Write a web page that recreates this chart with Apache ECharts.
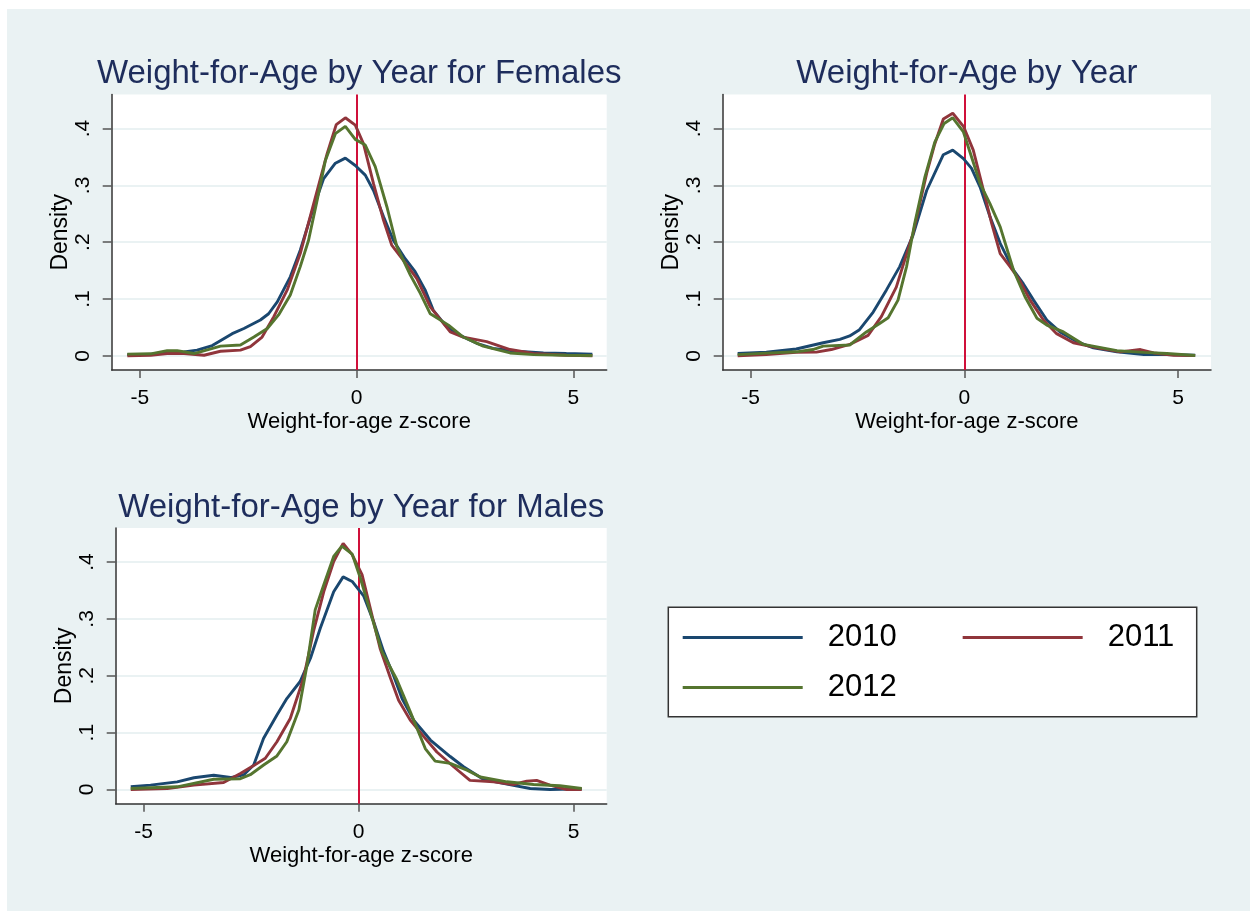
<!DOCTYPE html>
<html>
<head>
<meta charset="utf-8">
<script src="https://cdn.jsdelivr.net/npm/echarts@6/dist/echarts.min.js"></script>
<style>
html,body{margin:0;padding:0;background:#ffffff;}
#bg{position:absolute;left:7px;top:9px;width:1243px;height:902px;background:#EAF2F3;}
#chart{position:absolute;left:0;top:0;width:1250px;height:911px;}
</style>
</head>
<body>
<div id="bg"></div>
<div id="chart"></div>
<script>
// ---------------- DATA ----------------
const years = ['2010', '2011', '2012'];
const panelTitles = ['Weight-for-Age by Year for Females', 'Weight-for-Age by Year', 'Weight-for-Age by Year for Males'];
const xTickValues = [-5, 0, 5];
const yTickValues = [0, 0.1, 0.2, 0.3, 0.4];
const yTickLabels = ['0', '.1', '.2', '.3', '.4'];
const xAxisTitle = 'Weight-for-age z-score';
const yAxisTitle = 'Density';
const refLineX = 0;

// Females: [z-score, density]
const females2010 = [[-5.29,0.002],[-4.75,0.003],[-3.98,0.007],[-3.68,0.010],[-3.33,0.018],[-2.87,0.039],[-2.6,0.048],[-2.22,0.063],[-2.03,0.074],[-1.83,0.095],[-1.53,0.139],[-1.3,0.186],[-0.99,0.262],[-0.76,0.312],[-0.49,0.339],[-0.26,0.348],[-0.03,0.335],[0.2,0.318],[0.39,0.291],[0.62,0.245],[0.85,0.203],[1.12,0.171],[1.35,0.148],[1.58,0.116],[1.77,0.080],[2.08,0.051],[2.39,0.036],[2.77,0.022],[3.15,0.013],[3.69,0.008],[4.31,0.005],[4.84,0.004],[5.44,0.003]];
const females2011 = [[-5.29,0.000],[-4.75,0.001],[-4.37,0.004],[-3.98,0.004],[-3.52,0.001],[-3.14,0.008],[-2.68,0.010],[-2.45,0.016],[-2.18,0.033],[-1.91,0.069],[-1.6,0.116],[-1.3,0.180],[-0.99,0.268],[-0.68,0.356],[-0.47,0.407],[-0.26,0.419],[-0.03,0.406],[0.16,0.373],[0.39,0.303],[0.62,0.239],[0.81,0.195],[1.08,0.168],[1.39,0.136],[1.7,0.086],[2.16,0.042],[2.46,0.033],[3.0,0.025],[3.54,0.011],[4.08,0.004],[4.84,0.001],[5.44,0.000]];
const females2012 = [[-5.29,0.003],[-4.75,0.0035],[-4.37,0.009],[-4.14,0.009],[-3.75,0.004],[-3.14,0.017],[-2.68,0.019],[-2.37,0.033],[-2.06,0.048],[-1.8,0.072],[-1.53,0.107],[-1.3,0.157],[-1.11,0.203],[-0.91,0.274],[-0.72,0.344],[-0.49,0.391],[-0.26,0.404],[-0.03,0.381],[0.2,0.371],[0.43,0.333],[0.7,0.262],[0.93,0.192],[1.24,0.142],[1.47,0.110],[1.7,0.074],[2.12,0.054],[2.46,0.033],[2.92,0.017],[3.54,0.005],[4.08,0.002],[4.84,0.001],[5.44,0.0006]];

// All children
const all2010 = [[-5.3,0.004],[-4.63,0.0065],[-3.93,0.012],[-3.3,0.023],[-2.91,0.029],[-2.68,0.035],[-2.45,0.046],[-2.13,0.077],[-1.82,0.116],[-1.51,0.157],[-1.2,0.212],[-0.88,0.291],[-0.49,0.354],[-0.27,0.362],[-0.02,0.347],[0.17,0.330],[0.37,0.297],[0.6,0.245],[0.84,0.198],[1.15,0.151],[1.38,0.127],[1.62,0.098],[1.93,0.063],[2.24,0.042],[2.63,0.025],[3.02,0.014],[3.57,0.007],[4.2,0.0023],[4.74,0.0023],[5.4,0.001]];
const all2011 = [[-5.3,0.000],[-4.63,0.002],[-3.93,0.006],[-3.46,0.0065],[-3.11,0.011],[-2.68,0.020],[-2.25,0.036],[-1.94,0.069],[-1.59,0.121],[-1.2,0.215],[-0.88,0.321],[-0.69,0.373],[-0.49,0.417],[-0.27,0.427],[-0.02,0.404],[0.21,0.362],[0.45,0.291],[0.64,0.233],[0.84,0.180],[1.07,0.157],[1.27,0.136],[1.54,0.098],[1.85,0.063],[2.16,0.039],[2.55,0.023],[3.18,0.013],[3.65,0.007],[4.12,0.011],[4.43,0.005],[4.9,0.001],[5.4,0.0006]];
const all2012 = [[-5.3,0.002],[-4.63,0.0047],[-3.93,0.007],[-3.54,0.011],[-3.3,0.017],[-2.68,0.019],[-2.29,0.042],[-1.98,0.057],[-1.78,0.067],[-1.55,0.098],[-1.35,0.157],[-1.16,0.233],[-0.92,0.315],[-0.69,0.376],[-0.47,0.409],[-0.27,0.419],[-0.02,0.394],[0.17,0.350],[0.37,0.303],[0.6,0.268],[0.84,0.227],[1.15,0.151],[1.42,0.104],[1.7,0.066],[1.93,0.054],[2.32,0.042],[2.79,0.020],[3.57,0.009],[4.2,0.006],[4.74,0.004],[5.4,0.0006]];

// Males
const males2010 = [[-5.3,0.0047],[-4.84,0.0076],[-4.22,0.0135],[-3.83,0.0206],[-3.37,0.025],[-2.98,0.021],[-2.67,0.026],[-2.44,0.043],[-2.21,0.090],[-1.9,0.131],[-1.67,0.160],[-1.36,0.190],[-1.12,0.231],[-0.89,0.284],[-0.58,0.348],[-0.36,0.374],[-0.15,0.366],[0.12,0.340],[0.35,0.295],[0.58,0.243],[0.81,0.201],[1.01,0.160],[1.28,0.122],[1.67,0.087],[2.13,0.058],[2.44,0.040],[2.9,0.018],[3.45,0.0094],[3.99,0.0018],[4.45,0.0],[5.19,0.001]];
const males2011 = [[-5.3,0.0],[-4.45,0.0018],[-3.83,0.0076],[-3.14,0.0123],[-2.75,0.028],[-2.44,0.042],[-2.17,0.055],[-1.9,0.084],[-1.59,0.125],[-1.28,0.196],[-1.05,0.278],[-0.81,0.348],[-0.58,0.401],[-0.36,0.433],[-0.15,0.413],[0.08,0.378],[0.27,0.319],[0.5,0.248],[0.74,0.196],[0.93,0.157],[1.2,0.122],[1.55,0.090],[1.82,0.066],[2.21,0.040],[2.59,0.016],[3.14,0.0135],[3.6,0.0088],[3.91,0.0147],[4.14,0.016],[4.45,0.0076],[4.84,0.0],[5.19,0.0]];
const males2012 = [[-5.3,0.0018],[-4.22,0.0047],[-3.37,0.018],[-2.75,0.019],[-2.52,0.026],[-2.21,0.043],[-1.9,0.059],[-1.67,0.084],[-1.39,0.140],[-1.2,0.219],[-1.01,0.316],[-0.81,0.360],[-0.58,0.410],[-0.39,0.428],[-0.15,0.414],[0.04,0.372],[0.27,0.313],[0.54,0.243],[0.89,0.193],[1.2,0.137],[1.55,0.072],[1.78,0.050],[2.13,0.046],[2.52,0.034],[2.83,0.022],[3.45,0.0135],[4.07,0.0088],[4.68,0.0065],[5.19,0.0018]];

const panelData = [
  [females2010, females2011, females2012],
  [all2010, all2011, all2012],
  [males2010, males2011, males2012]
];

// ---------------- STYLE / LAYOUT ----------------
const lineColors = ['#1a476f', '#90353b', '#55752f'];
const grids = [
  {left: 111.7, top: 94.5, width: 495, height: 275.5},
  {left: 722.7, top: 94.5, width: 488.3, height: 275.5},
  {left: 115.7, top: 528, width: 491, height: 275.7}
];
const titleFont = 'Liberation Sans, Arial, Helvetica, sans-serif';

const option = {
  animation: false,
  backgroundColor: 'transparent',
  textStyle: {fontFamily: titleFont},
  title: grids.map((g, i) => ({
    text: panelTitles[i],
    left: g.left + g.width / 2,
    top: g.top - 37,
    textAlign: 'center',
    padding: 0,
    textStyle: {fontFamily: titleFont, fontSize: 33, fontWeight: 'normal', color: '#1e2d5c'}
  })),
  grid: grids.map(g => ({
    left: g.left, top: g.top, width: g.width, height: g.height,
    show: true, backgroundColor: '#ffffff', borderWidth: 0, containLabel: false
  })),
  xAxis: grids.map((g, i) => ({
    type: 'value', gridIndex: i, min: -5.65, max: 5.77,
    name: xAxisTitle, nameLocation: 'middle', nameGap: 41,
    nameTextStyle: {fontFamily: titleFont, fontSize: 22, color: '#000'},
    axisLine: {show: true, onZero: false, lineStyle: {color: '#333', width: 1.5}},
    axisTick: {show: true, length: 8, customValues: xTickValues, lineStyle: {color: '#555', width: 1.5}},
    axisLabel: {customValues: xTickValues, margin: 18, fontSize: 21, color: '#000', fontFamily: titleFont,
      formatter: v => String(v)},
    splitLine: {show: false}
  })),
  yAxis: grids.map((g, i) => ({
    type: 'value', gridIndex: i, min: -0.025, max: 0.46,
    name: yAxisTitle, nameLocation: 'middle', nameGap: 31, nameRotate: 90,
    nameTextStyle: {fontFamily: titleFont, fontSize: 23, color: '#000'},
    axisLine: {show: true, onZero: false, lineStyle: {color: '#333', width: 1.5}},
    axisTick: {show: true, length: 9, customValues: yTickValues, lineStyle: {color: '#555', width: 1.5}},
    axisLabel: {customValues: yTickValues, margin: 18, rotate: 90, fontSize: 21, color: '#000', fontFamily: titleFont,
      formatter: v => { const k = yTickValues.findIndex(t => Math.abs(t - v) < 1e-9); return k >= 0 ? yTickLabels[k] : ''; }},
    splitLine: {show: true, lineStyle: {color: '#EAF2F3', width: 2}}
  })),
  legend: [
    {data: [years[0], years[1]], left: 682.7, top: 622, orient: 'horizontal', padding: 0,
     icon: 'rect', itemWidth: 120, itemHeight: 3, itemGap: 66,
     textStyle: {fontSize: 31, color: '#000', fontFamily: titleFont, padding: [6, 0, 0, 20]}, z: 10},
    {data: [years[2]], left: 682.7, top: 672, orient: 'horizontal', padding: 0,
     icon: 'rect', itemWidth: 120, itemHeight: 3, itemGap: 66,
     textStyle: {fontSize: 31, color: '#000', fontFamily: titleFont, padding: [6, 0, 0, 20]}, z: 10}
  ],
  graphic: [
    {type: 'rect', shape: {x: 668.3, y: 607.3, width: 528.4, height: 109.4}, z: 1,
     style: {fill: '#ffffff', stroke: '#333333', lineWidth: 1.5}}
  ],
  series: []
};

panelData.forEach((set, p) => {
  set.forEach((pts, k) => {
    const s = {
      name: years[k], type: 'line', xAxisIndex: p, yAxisIndex: p,
      data: pts, showSymbol: false, symbol: 'none', smooth: false,
      lineStyle: {color: lineColors[k], width: 2.9}, itemStyle: {color: lineColors[k]},
      z: 3
    };
    if (k === 0) {
      s.markLine = {
        silent: true, symbol: ['none', 'none'], label: {show: false},
        lineStyle: {color: '#d0103a', width: 2, type: 'solid'},
        data: [{xAxis: refLineX}], z: 2
      };
    }
    option.series.push(s);
  });
});

const chart = echarts.init(document.getElementById('chart'), null, {renderer: 'canvas'});
chart.setOption(option);
</script>
</body>
</html>
